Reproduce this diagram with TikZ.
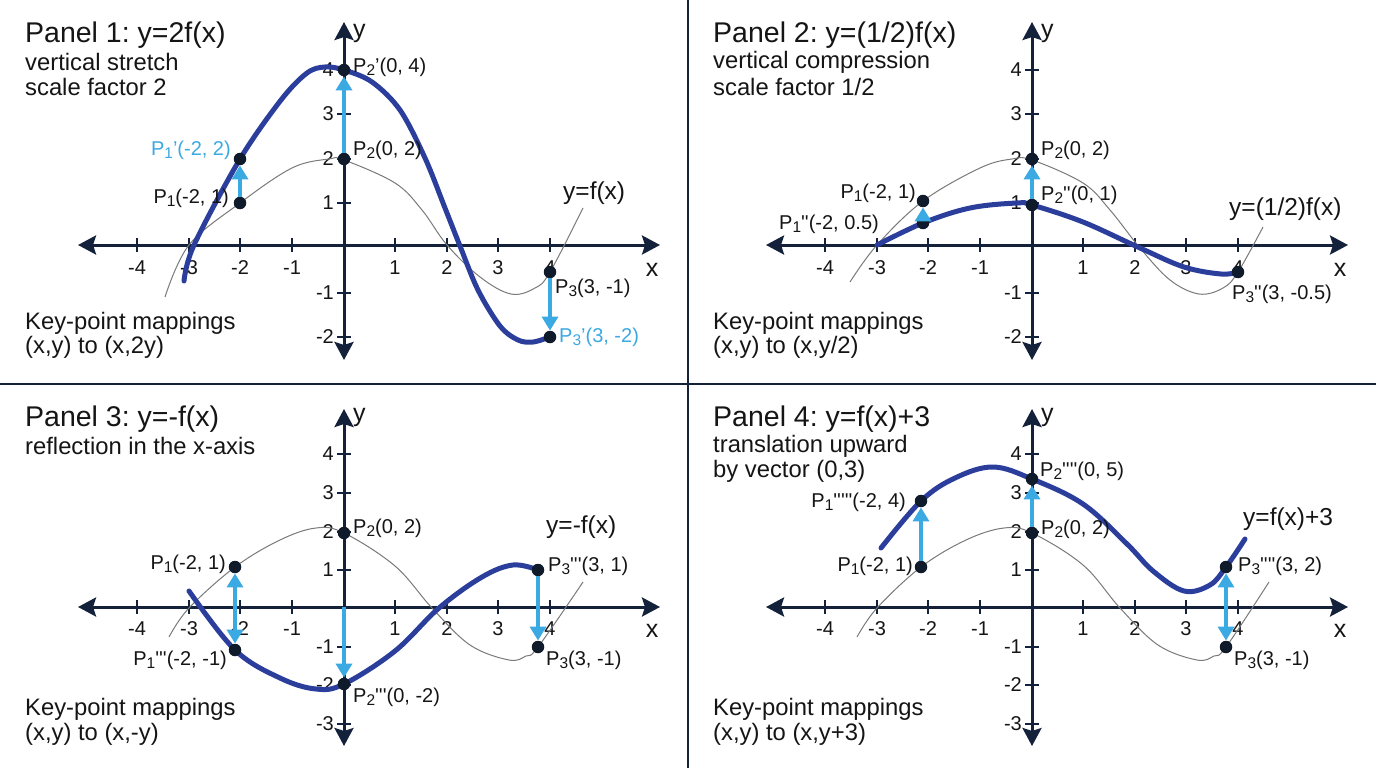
\documentclass[tikz,border=0pt]{standalone}
\usepackage{fontspec}
\setmainfont{Liberation Sans}
\usetikzlibrary{arrows.meta}
\definecolor{navy}{HTML}{14213A}
\definecolor{curveblue}{HTML}{2C3E9C}
\definecolor{lblue}{HTML}{3BA9E2}
\definecolor{gcol}{HTML}{7A7A7A}
\definecolor{txt}{HTML}{151515}
\definecolor{dotc}{HTML}{0F1A2A}
\newcommand\sbs[1]{\raisebox{-0.3ex}{\fontsize{15.5}{15.5}\selectfont #1}}
\newcommand\pq{\textquotesingle}
\AtBeginDocument{\frenchspacing}
\begin{document}
\begin{tikzpicture}[x=1pt,y=-1pt,
  axis/.style={draw=navy,line width=3pt,{Stealth[length=18pt,width=19pt,inset=3pt]}-{Stealth[length=18pt,width=19pt,inset=3pt]}},
  tk/.style={draw=navy,line width=2.5pt},
  divider/.style={draw=navy,line width=2.5pt},
  tkl/.style={inner sep=0pt,text=txt,font=\fontsize{20}{22}\selectfont},
  plbl/.style={inner sep=0pt,text=txt,font=\fontsize{20}{22}\selectfont},
  bl/.style={text=lblue},
  ttl/.style={inner sep=0pt,anchor=west,text=txt,font=\fontsize{28.5}{31}\selectfont},
  sbt/.style={inner sep=0pt,anchor=west,text=txt,font=\fontsize{23.8}{26}\selectfont},
  crvl/.style={inner sep=0pt,anchor=west,text=txt,font=\fontsize{24.5}{27}\selectfont},
  axl/.style={inner sep=0pt,text=txt,font=\fontsize{25}{27}\selectfont},
  bcurve/.style={draw=curveblue,line width=5pt,line cap=round},
  gcurve/.style={draw=gcol,line width=1pt},
  dot/.style={circle,fill=dotc,inner sep=0pt,minimum size=12.5pt},
  marr/.style={draw=lblue,line width=4pt,-{Triangle[length=14pt,width=16pt]}},
  dmarr/.style={draw=lblue,line width=4pt,{Triangle[length=14pt,width=16pt]}-{Triangle[length=14pt,width=16pt]}}
]
\useasboundingbox (0,0) rectangle (1376,768);
\fill[white] (0,0) rectangle (1376,768);

% dividers
\coordinate (dvt) at (688,0); \coordinate (dvb) at (688,768);
\coordinate (dhl) at (0,384); \coordinate (dhr) at (1376,384);
\draw[divider] (dvt) -- (dvb);
\draw[divider] (dhl) -- (dhr);

% ---------- axes, top panels ----------
\foreach \ox/\nm in {0/a,688/b}{
  \begin{scope}[shift={(\ox,0)}]
    \coordinate (\nm xl) at (78,245); \coordinate (\nm xr) at (660,245);
    \coordinate (\nm yt) at (344,22); \coordinate (\nm yb) at (344,360);
    \draw[axis] (\nm xl) -- (\nm xr);
    \draw[axis] (\nm yt) -- (\nm yb);
    \foreach \x/\l in {137/-4,189/-3,240/-2,292/-1,395/1,447/2,498/3,550/4}{
      \draw[tk] (\x,238) -- (\x,252);
      \node[tkl] (\nm tx\x) at (\x,268) {\l};
    }
    \foreach \y/\l in {70/4,114/3,159/2,203/1,293/-1,337/-2}{
      \draw[tk] (337,\y) -- (351,\y);
      \node[tkl,anchor=east] (\nm ty\y) at (334,\y) {\l};
    }
    \node[axl] (\nm xlab) at (652,270) {x};
    \node[axl,anchor=west] (\nm ylab) at (353,33) {y};
  \end{scope}
}
% ---------- axes, bottom panels ----------
\foreach \ox/\nm in {0/c,688/d}{
  \begin{scope}[shift={(\ox,0)}]
    \coordinate (\nm xl) at (78,607); \coordinate (\nm xr) at (660,607);
    \coordinate (\nm yt) at (344,409); \coordinate (\nm yb) at (344,746);
    \draw[axis] (\nm xl) -- (\nm xr);
    \draw[axis] (\nm yt) -- (\nm yb);
    \foreach \x/\l in {137/-4,189/-3,240/-2,292/-1,395/1,447/2,498/3,550/4}{
      \draw[tk] (\x,600) -- (\x,614);
      \node[tkl] (\nm tx\x) at (\x,629) {\l};
    }
    \foreach \y/\l in {454/4,493/3,532/2,570/1,647/-1,685/-2,724/-3}{
      \draw[tk] (337,\y) -- (351,\y);
      \node[tkl,anchor=east] (\nm ty\y) at (334,\y) {\l};
    }
    \node[axl] (\nm xlab) at (652,631) {x};
    \node[axl,anchor=west] (\nm ylab) at (353,417) {y};
  \end{scope}
}

% ================= PANEL 1 =================
\node[ttl] (t1) at (25,35) {Panel 1: y=2f(x)};
\node[sbt] (s1a) at (25,62) {vertical stretch};
\node[sbt] (s1b) at (25,87) {scale factor 2};
\node[sbt] (k1a) at (25,323) {Key-point mappings};
\node[sbt] (k1b) at (25,347) {(x,y) to (x,2y)};
\draw[gcurve] plot[smooth,tension=0.6] coordinates {(165,297) (189,245) (240,203) (292,168) (329,159) (344,160) (395,183) (422,210) (447,245) (480,277) (511,294) (535,288) (550,272) (583,208)};
\draw[bcurve] plot[smooth,tension=0.55] coordinates {(184,281) (194,245) (240,159) (281,100) (307,73) (325,67) (344,70) (372,82) (400,110) (425,158) (445,208) (460,246) (478,290) (500,326) (518,340) (533,342) (550,337)};
\node[dot] (p1a) at (240,203) {};
\node[dot] (p1b) at (240,159) {};
\node[dot] (p2a) at (344,159) {};
\node[dot] (p2b) at (344,70) {};
\node[dot] (p3a) at (550,272) {};
\node[dot] (p3b) at (550,337) {};
\draw[marr] (p1a) -- (p1b);
\draw[marr] (p2a) -- (p2b);
\draw[marr] (p3a) -- (p3b);
\node[plbl,anchor=west] (l2b) at (353,67) {P\sbs{2}’(0, 4)};
\node[plbl,bl,anchor=east] (l1b) at (231,150) {P\sbs{1}’(-2, 2)};
\node[plbl,anchor=west] (l2a) at (353,150) {P\sbs{2}(0, 2)};
\node[plbl,anchor=east] (l1a) at (229,198) {P\sbs{1}(-2, 1)};
\node[crvl] (c1) at (563,193) {y=f(x)};
\node[plbl,anchor=west] (l3a) at (555,288) {P\sbs{3}(3, -1)};
\node[plbl,bl,anchor=west] (l3b) at (559,337) {P\sbs{3}’(3, -2)};

% ================= PANEL 2 =================
\node[ttl] (t2) at (713,35) {Panel 2: y=(1/2)f(x)};
\node[sbt] (s2a) at (713,62) {vertical compression};
\node[sbt] (s2b) at (713,87) {scale factor 1/2};
\node[sbt] (k2a) at (713,323) {Key-point mappings};
\node[sbt] (k2b) at (713,347) {(x,y) to (x,y/2)};
\draw[gcurve] plot[smooth,tension=0.6] coordinates {(850,282) (877,245) (923,201) (980,168) (1012,159) (1032,160) (1083,183) (1110,210) (1140,248) (1170,280) (1199,294) (1223,288) (1238,272) (1263,227)};
\draw[bcurve] plot[smooth,tension=0.6] coordinates {(877,245) (923,223) (970,208) (1017,203) (1032,205) (1083,222) (1140,248) (1184,267) (1221,274) (1238,272)};
\node[dot] (q1a) at (923,201) {};
\node[dot] (q1b) at (923,223) {};
\node[dot] (q2a) at (1032,159) {};
\node[dot] (q2b) at (1032,205) {};
\node[dot] (q3b) at (1238,272) {};
\draw[marr] (q1b) -- (q1a);
\draw[marr] (q2b) -- (q2a);
\node[plbl,anchor=east] (m1a) at (916,193) {P\sbs{1}(-2, 1)};
\node[plbl,anchor=east] (m1b) at (879,224) {P\sbs{1}\pq\pq(-2, 0.5)};
\node[plbl,anchor=west] (m2a) at (1041,150) {P\sbs{2}(0, 2)};
\node[plbl,anchor=west] (m2b) at (1041,195) {P\sbs{2}\pq\pq(0, 1)};
\node[crvl] (c2) at (1229,209) {y=(1/2)f(x)};
\node[plbl,anchor=west] (m3b) at (1232,294) {P\sbs{3}\pq\pq(3, -0.5)};

% ================= PANEL 3 =================
\node[ttl] (t3) at (25,419) {Panel 3: y=-f(x)};
\node[sbt] (s3a) at (25,446) {reflection in the x-axis};
\node[sbt] (k3a) at (25,709) {Key-point mappings};
\node[sbt] (k3b) at (25,734) {(x,y) to (x,-y)};
\draw[gcurve] plot[smooth,tension=0.6] coordinates {(169,637) (189,608) (235,567) (280,540) (316,528) (344,533) (395,566) (432,608) (470,645) (509,660) (526,656) (538,647) (583,582)};
\draw[bcurve] plot[smooth,tension=0.6] coordinates {(189,591) (235,650) (280,678) (316,689) (344,684) (395,651) (439,608) (482,577) (513,565) (538,570)};
\coordinate (o3) at (344,607);
\node[dot] (r1a) at (235,567) {};
\node[dot] (r1b) at (235,650) {};
\node[dot] (r2a) at (344,533) {};
\node[dot] (r2b) at (344,684) {};
\node[dot] (r3b) at (538,570) {};
\node[dot] (r3a) at (538,647) {};
\draw[dmarr] (r1a) -- (r1b);
\draw[marr] (o3) -- (r2b);
\draw[marr] (r3b) -- (r3a);
\node[plbl,anchor=east] (n1a) at (226,564) {P\sbs{1}(-2, 1)};
\node[plbl,anchor=east] (n1b) at (227,660) {P\sbs{1}\pq\pq\pq(-2, -1)};
\node[plbl,anchor=west] (n2a) at (353,528) {P\sbs{2}(0, 2)};
\node[plbl,anchor=west] (n2b) at (353,697) {P\sbs{2}\pq\pq\pq(0, -2)};
\node[crvl] (c3) at (546,527) {y=-f(x)};
\node[plbl,anchor=west] (n3b) at (548,566) {P\sbs{3}\pq\pq\pq(3, 1)};
\node[plbl,anchor=west] (n3a) at (546,660) {P\sbs{3}(3, -1)};

% ================= PANEL 4 =================
\node[ttl] (t4) at (713,419) {Panel 4: y=f(x)+3};
\node[sbt] (s4a) at (713,446) {translation upward};
\node[sbt] (s4b) at (713,471) {by vector (0,3)};
\node[sbt] (k4a) at (713,709) {Key-point mappings};
\node[sbt] (k4b) at (713,734) {(x,y) to (x,y+3)};
\draw[gcurve] plot[smooth,tension=0.6] coordinates {(857,637) (877,608) (921,567) (966,540) (1004,528) (1032,533) (1083,565) (1120,608) (1158,645) (1197,660) (1214,656) (1226,647) (1269,582)};
\draw[bcurve] plot[smooth,tension=0.6] coordinates {(881,548) (921,501) (955,478) (993,467) (1032,479) (1083,504) (1127,544) (1153,571) (1184,591) (1210,585) (1226,567) (1245,539)};
\node[dot] (s1lo) at (921,567) {};
\node[dot] (s1hi) at (921,501) {};
\node[dot] (s2lo) at (1032,533) {};
\node[dot] (s2hi) at (1032,479) {};
\node[dot] (s3hi) at (1226,567) {};
\node[dot] (s3lo) at (1226,647) {};
\draw[marr] (s1lo) -- (s1hi);
\draw[marr] (s2lo) -- (s2hi);
\draw[dmarr] (s3lo) -- (s3hi);
\node[plbl,anchor=east] (u1b) at (906,502) {P\sbs{1}\pq\pq\pq\pq\pq(-2, 4)};
\node[plbl,anchor=west] (u2b) at (1040,471) {P\sbs{2}\pq\pq\pq\pq(0, 5)};
\node[plbl,anchor=west] (u2a) at (1041,529) {P\sbs{2}(0, 2)};
\node[crvl] (c4) at (1243,519) {y=f(x)+3};
\node[plbl,anchor=west] (u3b) at (1238,566) {P\sbs{3}\pq\pq\pq\pq(3, 2)};
\node[plbl,anchor=west] (u3a) at (1234,660) {P\sbs{3}(3, -1)};
\node[plbl,anchor=east] (u1a) at (913,566) {P\sbs{1}(-2, 1)};
\end{tikzpicture}
\end{document}
